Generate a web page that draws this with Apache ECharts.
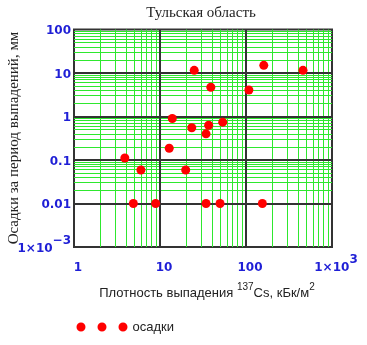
<!DOCTYPE html>
<html>
<head>
<meta charset="utf-8">
<script src="https://cdn.jsdelivr.net/npm/echarts@6/dist/echarts.min.js"></script>
<style>
  html, body { margin: 0; padding: 0; background: #fff; }
  #main { width: 367px; height: 345px; }
</style>
</head>
<body>
<div id="main"></div>
<script>
// плотность выпадения 137Cs, кБк/м2
const deposition = [25, 39, 108, 161, 460, 13.9, 23.4, 36.8, 34.3, 53.6, 12.8, 3.9, 6.0, 19.9, 4.9, 8.9, 34.3, 49.9, 155];
// осадки за период выпадений, мм
const precipitation = [11.5, 4.7, 4.06, 15, 11.5, 0.9, 0.55, 0.63, 0.4, 0.74, 0.186, 0.111, 0.059, 0.059, 0.01, 0.01, 0.01, 0.01, 0.01];

const xTickLabels = ['1', '10', '100', '{b|1×10}{s|3}'];      // 10^0 .. 10^3
const yTickLabels = ['{b|1×10}{s|−3}', '0.01', '0.1', '1', '10', '100']; // 10^-3 .. 10^2
const minorSteps = [2, 3, 4, 5, 6, 7, 8, 9];
const xDecades = [1, 10, 100];
const yDecades = [0.001, 0.01, 0.1, 1, 10];

const chart = echarts.init(document.getElementById('main'));

// сетка: зелёные промежуточные линии + тёмные линии декад
const gridLines = [];
xDecades.forEach(d => minorSteps.forEach(k => gridLines.push({xAxis: d * k})));
yDecades.forEach(d => minorSteps.forEach(k => gridLines.push({yAxis: d * k})));
[10, 100].forEach(v => gridLines.push({xAxis: v, lineStyle: {color: '#333', width: 2}}));
[0.01, 0.1, 1, 10].forEach(v => gridLines.push({yAxis: v, lineStyle: {color: '#333', width: 2}}));

const blue = '#1f1fd6';
const labelRich = {
    b: {fontFamily: 'DejaVu Sans', fontWeight: 'bold', fontSize: 12, color: blue},
    s: {fontFamily: 'DejaVu Sans', fontWeight: 'bold', fontSize: 12, color: blue, padding: [0, 0, 16, 0]}
};

const option = {
    animation: false,
    grid: {left: 74, right: 35, top: 29.5, bottom: 98, show: true, borderColor: '#333', borderWidth: 2},
    xAxis: {
        type: 'log', logBase: 10, min: 1, max: 1000, splitNumber: 3,
        axisLine: {show: false}, axisTick: {show: false}, splitLine: {show: false},
        axisLabel: {
            margin: 21, padding: [0, 0, 0, 8], verticalAlign: 'middle',
            fontFamily: 'DejaVu Sans', fontWeight: 'bold', fontSize: 12, color: blue,
            formatter: v => xTickLabels[Math.round(Math.log10(v))] || '',
            rich: labelRich
        }
    },
    yAxis: {
        type: 'log', logBase: 10, min: 0.001, max: 100, splitNumber: 5,
        axisLine: {show: false}, axisTick: {show: false}, splitLine: {show: false},
        axisLabel: {
            margin: 3, padding: [3, 0, 0, 0],
            fontFamily: 'DejaVu Sans', fontWeight: 'bold', fontSize: 12, color: blue,
            formatter: v => yTickLabels[Math.round(Math.log10(v)) + 3] || '',
            rich: labelRich
        }
    },
    legend: {
        left: 76.5, top: 320.5, padding: 0, itemWidth: 51, itemHeight: 9,
        icon: 'path://M0,4.5a4.5,4.5 0 1,0 9,0a4.5,4.5 0 1,0 -9,0Z M21,4.5a4.5,4.5 0 1,0 9,0a4.5,4.5 0 1,0 -9,0Z M42,4.5a4.5,4.5 0 1,0 9,0a4.5,4.5 0 1,0 -9,0Z',
        data: ['осадки'],
        textStyle: {fontFamily: 'Liberation Sans', fontSize: 13, color: '#222'}
    },
    graphic: [
        {type: 'text', x: 201, y: 13, style: {text: 'Тульская область', font: '15px "Liberation Serif"', fill: '#222', align: 'center', verticalAlign: 'middle'}},
        {type: 'text', x: 14, y: 138, rotation: Math.PI / 2, style: {text: 'Осадки за период выпадений, мм', font: '15px "Liberation Serif"', fill: '#222', align: 'center', verticalAlign: 'middle'}},
        {type: 'text', x: 207, y: 293, style: {
            text: '{a|Плотность выпадения }{s|137}{a|Cs, кБк/м}{s|2}',
            align: 'center', verticalAlign: 'middle',
            rich: {
                a: {fontFamily: 'Liberation Sans', fontSize: 13, fill: '#222'},
                s: {fontFamily: 'Liberation Sans', fontSize: 10, fill: '#222', padding: [0, 0, 12, 0]}
            }
        }}
    ],
    series: [
        {
            name: 'сетка', type: 'scatter', data: [], silent: true, z: 1,
            markLine: {
                silent: true, symbol: 'none', animation: false,
                label: {show: false},
                lineStyle: {color: '#2ee82e', width: 1, type: 'solid'},
                data: gridLines
            }
        },
        {
            name: 'осадки', type: 'scatter', z: 5,
            symbol: 'circle', symbolSize: 9,
            itemStyle: {color: '#ff0000', opacity: 1},
            data: deposition.map((x, i) => [x, precipitation[i]])
        }
    ]
};

chart.setOption(option);
</script>
</body>
</html>
